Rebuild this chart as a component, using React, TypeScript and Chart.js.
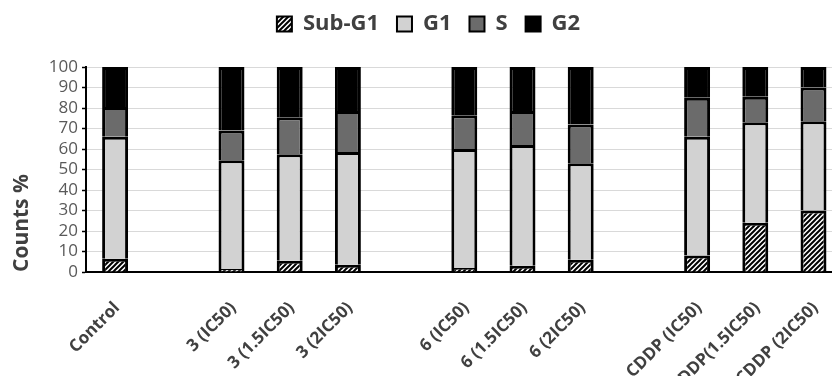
import React, { useEffect, useRef } from 'react';
import { Chart, registerables } from 'chart.js';

Chart.register(...registerables);

const categories = [
  'Control', '', '3 (IC50)', '3 (1.5IC50)', '3 (2IC50)', '',
  '6 (IC50)', '6 (1.5IC50)', '6 (2IC50)', '',
  'CDDP (IC50)', 'CDDP(1.5IC50)', 'CDDP (2IC50)',
];
const subG1 = [6.5, null, 1.5, 5.5, 3.5, null, 2, 3, 6, null, 8, 24, 30];
const g1 = [59.5, null, 53, 52, 55, null, 58, 59, 47, null, 58, 49, 43.5];
const sPhase = [14.5, null, 14.5, 18, 20, null, 16.5, 16.5, 19, null, 19, 12.5, 16.5];
const g2 = [19.5, null, 31, 24.5, 21.5, null, 23.5, 21.5, 28, null, 15, 14.5, 10];
const seriesNames = ['Sub-G1', 'G1', 'S', 'G2'];

const FONT = '"Open Sans", "Noto Sans", sans-serif';

function makeHatch(): CanvasPattern | string {
  const s = 5;
  const c = document.createElement('canvas');
  c.width = s;
  c.height = s;
  const ctx = c.getContext('2d');
  if (!ctx) return '#888';
  ctx.fillStyle = '#ffffff';
  ctx.fillRect(0, 0, s, s);
  ctx.strokeStyle = '#000000';
  ctx.lineWidth = 2;
  ctx.beginPath();
  ctx.moveTo(0, s);
  ctx.lineTo(s, 0);
  ctx.moveTo(-1, 1);
  ctx.lineTo(1, -1);
  ctx.moveTo(s - 1, s + 1);
  ctx.lineTo(s + 1, s - 1);
  ctx.stroke();
  const p = ctx.createPattern(c, 'repeat');
  return p || '#888';
}

const legendSpacer = {
  id: 'legendSpacer',
  beforeLayout(chart: any) {
    const lg = chart.legend;
    if (lg && !lg._patched) {
      const orig = lg.fit.bind(lg);
      lg.fit = function () {
        orig();
        this.height = 72;
      };
      lg._patched = true;
    }
  },
};

export default function App() {
  const ref = useRef<HTMLCanvasElement>(null);

  useEffect(() => {
    if (!ref.current) return;
    const hatch = makeHatch();
    const common = {
      borderColor: '#000000',
      borderWidth: 3,
      barPercentage: 0.446,
      categoryPercentage: 1,
    };
    const chart = new Chart(ref.current, {
      type: 'bar',
      data: {
        labels: categories,
        datasets: [
          { label: seriesNames[0], data: subG1, backgroundColor: hatch as any, ...common },
          { label: seriesNames[1], data: g1, backgroundColor: '#d2d2d2', ...common },
          { label: seriesNames[2], data: sPhase, backgroundColor: '#6b6b6b', ...common },
          { label: seriesNames[3], data: g2, backgroundColor: '#000000', ...common },
        ],
      },
      options: {
        responsive: false,
        animation: false,
        devicePixelRatio: 1,
        layout: { padding: { left: 13, right: 2, top: 0, bottom: 0 } },
        plugins: {
          tooltip: { enabled: false },
          legend: {
            position: 'top',
            labels: {
              boxWidth: 15,
              boxHeight: 15,
              padding: 18,
              color: '#404040',
              font: { family: FONT, size: 22, weight: 'bold' },
              generateLabels: (c: any) =>
                (Chart.defaults.plugins.legend.labels.generateLabels as any)(c).map((l: any) => ({
                  ...l,
                  lineWidth: 2,
                })),
            },
          },
        },
        scales: {
          x: {
            stacked: true,
            grid: { display: false },
            border: { display: true, color: '#000000', width: 2 },
            afterFit: (scale: any) => {
              scale.height = 104;
            },
            ticks: {
              autoSkip: false,
              minRotation: 45,
              maxRotation: 45,
              padding: 18,
              labelOffset: 2,
              color: '#404040',
              font: { family: FONT, size: 17, weight: 'bold' },
            },
          },
          y: {
            stacked: true,
            min: 0,
            max: 100,
            afterFit: (scale: any) => {
              scale.width = 73;
            },
            ticks: {
              stepSize: 10,
              autoSkip: false,
              padding: 4,
              color: '#595959',
              font: { family: FONT, size: 17, lineHeight: 1 },
            },
            grid: {
              color: '#d9d9d9',
              lineWidth: 1,
              tickColor: '#000000',
              tickLength: 4,
              tickWidth: 1.5,
            },
            border: { display: true, color: '#000000', width: 2 },
            title: {
              display: true,
              text: 'Counts %',
              align: 'start',
              color: '#404040',
              padding: { top: 0, bottom: 0 },
              font: { family: FONT, size: 21, weight: 'bold', lineHeight: 0.9 },
            },
          },
        },
      },
      plugins: [legendSpacer],
    } as any);
    return () => chart.destroy();
  }, []);

  return (
    <div
      style={{
        position: 'fixed',
        left: 0,
        top: 0,
        width: 832,
        height: 376,
        overflow: 'hidden',
        background: '#ffffff',
      }}
    >
      <div style={{ position: 'absolute', left: 0, top: -5, width: 846, height: 381 }}>
        <canvas ref={ref} width={846} height={381} style={{ display: 'block' }} />
      </div>
    </div>
  );
}
